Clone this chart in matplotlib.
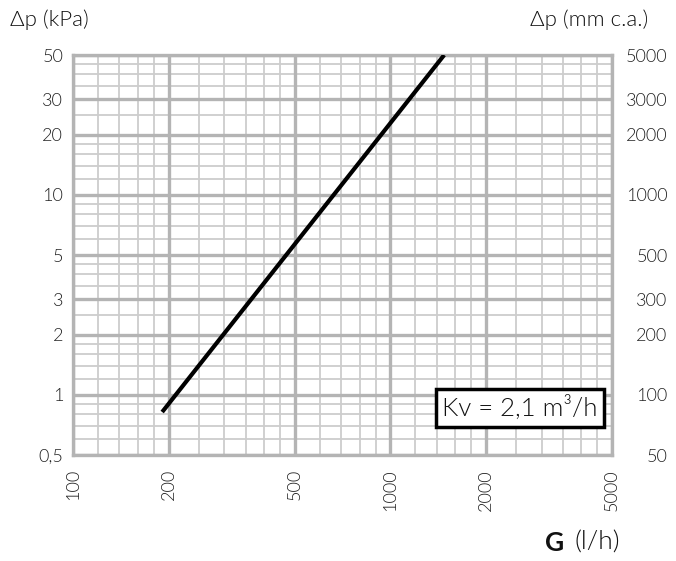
import matplotlib
matplotlib.use("Agg")
import matplotlib.pyplot as plt
import numpy as np

# Data
flow_lh = [191, 1479]          # G (l/h)
dp_kpa = [0.82, 50]            # Δp (kPa)

x_major = [100, 200, 500, 1000, 2000, 5000]
x_minor = [120, 140, 160, 180, 250, 300, 350, 400, 450, 600, 700, 800, 900,
           1200, 1400, 1600, 1800, 2500, 3000, 3500, 4000, 4500]
y_major = [0.5, 1, 2, 3, 5, 10, 20, 30, 50]
y_major_labels = ["0,5", "1", "2", "3", "5", "10", "20", "30", "50"]
y_minor = [0.6, 0.7, 0.8, 0.9, 1.2, 1.4, 1.6, 1.8, 2.5, 3.5, 4, 4.5,
           6, 7, 8, 9, 12, 14, 16, 18, 25, 35, 40, 45]
y_right = [50, 100, 200, 300, 500, 1000, 2000, 3000, 5000]
y_right_labels = ["50", "100", "200", "300", "500", "1000", "2000", "3000", "5000"]

plt.rcParams['font.family'] = ['Lato', 'DejaVu Sans']

fig = plt.figure(figsize=(6.76, 5.61), dpi=100)
ax = fig.add_axes([73/676, 1-455/561, (612-73)/676, 400/561])
ax.set_xscale('log')
ax.set_yscale('log')
ax.set_xlim(100, 5000)
ax.set_ylim(0.5, 50)

major_c = '#b4b4b4'
minor_c = '#cdcdcd'
for v in x_minor:
    ax.axvline(v, color=minor_c, lw=1.3, zorder=1)
for v in y_minor:
    ax.axhline(v, color=minor_c, lw=1.3, zorder=1)
for v in x_major:
    ax.axvline(v, color=major_c, lw=2.4, zorder=2)
for v in y_major:
    ax.axhline(v, color=major_c, lw=2.4, zorder=2)

for s in ax.spines.values():
    s.set_color(major_c)
    s.set_linewidth(2.4)

ax.plot(flow_lh, dp_kpa, color='black', lw=3, solid_capstyle='butt', zorder=5)

W = 300
tick_kw = dict(fontsize=13, color='#222222', fontweight=W)
ax.set_xticks(x_major)
ax.set_xticklabels([str(v) for v in x_major], rotation=90, **tick_kw)
ax.set_xticks([], minor=True)
ax.set_yticks(y_major)
ax.set_yticklabels(y_major_labels, **tick_kw)
ax.set_yticks([], minor=True)
ax.tick_params(axis='x', length=0, pad=10)
ax.tick_params(axis='y', length=0, pad=7)
for lbl in ax.get_xticklabels():
    lbl.set_va('top')

ax2 = ax.twinx()
ax2.set_yscale('log')
ax2.set_ylim(50, 5000)
ax2.set_yticks(y_right)
ax2.set_yticklabels(y_right_labels, **tick_kw)
ax2.set_yticks([], minor=True)
ax2.tick_params(axis='y', length=0, pad=40)
for lbl in ax2.get_yticklabels():
    lbl.set_ha('right')
for s in ax2.spines.values():
    s.set_visible(False)

title_kw = dict(fontsize=16, color='#111111', fontweight=W, va='center')
fig.text(10/676, 1-20/561, "Δp (kPa)", ha='left', **title_kw)
fig.text(648/676, 1-20/561, "Δp (mm c.a.)", ha='right', **title_kw)
fig.text(545/676, 1-543/561, "G", fontsize=19, fontweight='bold', color='#111111', va='center', ha='left')
fig.text(574/676, 1-543/561, "(l/h)", fontsize=19, fontweight=W, color='#111111', va='center', ha='left')

ax.text(0.973, 0.1175, "Kv = 2,1 m³/h", transform=ax.transAxes, fontsize=18.5,
        fontweight=W, ha='right', va='center', color='#111111', zorder=10,
        bbox=dict(boxstyle='square,pad=0.25', fc='white', ec='black', lw=2.5))

fig.savefig("out.png", dpi=100)
